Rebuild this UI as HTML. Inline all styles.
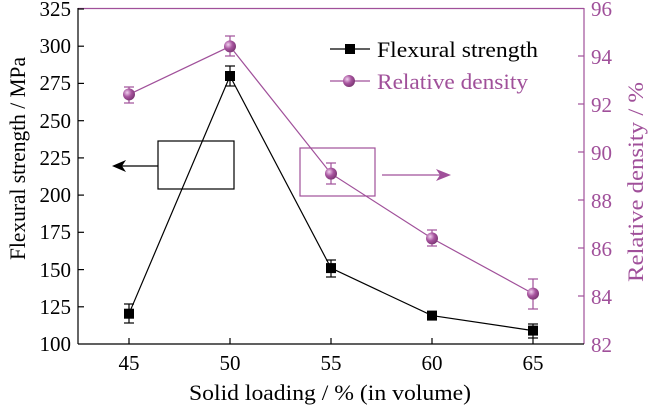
<!DOCTYPE html><html><head><style>body{margin:0;background:#fff}svg{display:block}text{font-family:"Liberation Serif",serif}</style></head><body>
<svg width="650" height="408" viewBox="0 0 650 408" xmlns="http://www.w3.org/2000/svg">
<defs><radialGradient id="g" cx="0.35" cy="0.35" r="0.7"><stop offset="0" stop-color="#f0d0ee"/><stop offset="0.5" stop-color="#a8559f"/><stop offset="1" stop-color="#7a3572"/></radialGradient></defs>
<line x1="78" y1="8.5" x2="584" y2="8.5" stroke="#a0509a" stroke-width="1.2"/>
<line x1="584" y1="8" x2="584" y2="344" stroke="#a0509a" stroke-width="1.2"/>
<line x1="78" y1="8" x2="78" y2="344" stroke="#000" stroke-width="1.2"/>
<line x1="78" y1="344" x2="584" y2="344" stroke="#000" stroke-width="1.2"/>
<g stroke="#000" stroke-width="1.2">
<line x1="78" y1="9" x2="84" y2="9"/><line x1="78" y1="46.2" x2="84" y2="46.2"/><line x1="78" y1="83.4" x2="84" y2="83.4"/><line x1="78" y1="120.7" x2="84" y2="120.7"/><line x1="78" y1="157.9" x2="84" y2="157.9"/><line x1="78" y1="195.1" x2="84" y2="195.1"/><line x1="78" y1="232.3" x2="84" y2="232.3"/><line x1="78" y1="269.6" x2="84" y2="269.6"/><line x1="78" y1="306.8" x2="84" y2="306.8"/>
<line x1="129" y1="344" x2="129" y2="338"/><line x1="230" y1="344" x2="230" y2="338"/><line x1="331" y1="344" x2="331" y2="338"/><line x1="432" y1="344" x2="432" y2="338"/><line x1="533" y1="344" x2="533" y2="338"/>
</g>
<g stroke="#a0509a" stroke-width="1.2">
<line x1="578" y1="56" x2="584" y2="56"/><line x1="578" y1="104" x2="584" y2="104"/><line x1="578" y1="152" x2="584" y2="152"/><line x1="578" y1="200" x2="584" y2="200"/><line x1="578" y1="248" x2="584" y2="248"/><line x1="578" y1="296" x2="584" y2="296"/>
</g>
<g font-size="21" text-anchor="end" fill="#000">
<text x="71" y="16">325</text><text x="71" y="53">300</text><text x="71" y="90">275</text><text x="71" y="128">250</text><text x="71" y="165">225</text><text x="71" y="202">200</text><text x="71" y="239">175</text><text x="71" y="277">150</text><text x="71" y="314">125</text><text x="71" y="351">100</text>
</g>
<g font-size="21" text-anchor="middle" fill="#000">
<text x="129" y="370">45</text><text x="230" y="370">50</text><text x="331" y="370">55</text><text x="432" y="370">60</text><text x="533" y="370">65</text>
</g>
<text x="189" y="400" font-size="22" textLength="282" lengthAdjust="spacingAndGlyphs">Solid loading / % (in volume)</text>
<g font-size="21" fill="#a0509a">
<text x="591" y="16">96</text><text x="591" y="64">94</text><text x="591" y="112">92</text><text x="591" y="160">90</text><text x="591" y="208">88</text><text x="591" y="256">86</text><text x="591" y="304">84</text><text x="591" y="352">82</text>
</g>
<text transform="translate(25,260) rotate(-90)" font-size="22" textLength="203" lengthAdjust="spacingAndGlyphs">Flexural strength / MPa</text>
<text transform="translate(643,282) rotate(-90)" font-size="22" textLength="200" lengthAdjust="spacingAndGlyphs" fill="#a0509a">Relative density / %</text>
<polyline points="129,94.4 230,46.4 331,173.6 432,238.4 533,293.6" fill="none" stroke="#a0509a" stroke-width="1.2"/>
<g stroke="#a0509a" stroke-width="1.2">
<line x1="129" y1="87" x2="129" y2="103"/><line x1="124" y1="87" x2="134" y2="87"/><line x1="124" y1="103" x2="134" y2="103"/>
<line x1="230" y1="36" x2="230" y2="56"/><line x1="225" y1="36" x2="235" y2="36"/><line x1="225" y1="56" x2="235" y2="56"/>
<line x1="331" y1="163" x2="331" y2="184"/><line x1="326" y1="163" x2="336" y2="163"/><line x1="326" y1="184" x2="336" y2="184"/>
<line x1="432" y1="230" x2="432" y2="246"/><line x1="427" y1="230" x2="437" y2="230"/><line x1="427" y1="246" x2="437" y2="246"/>
<line x1="533" y1="279" x2="533" y2="309"/><line x1="528" y1="279" x2="538" y2="279"/><line x1="528" y1="309" x2="538" y2="309"/>
</g>
<g fill="url(#g)"><circle cx="129" cy="94.4" r="6"/><circle cx="230" cy="46.4" r="6"/><circle cx="331" cy="173.6" r="6"/><circle cx="432" cy="238.4" r="6"/><circle cx="533" cy="293.6" r="6"/></g>
<polyline points="129,313.7 230,76 331,268.1 432,315.6 533,330.6" fill="none" stroke="#000" stroke-width="1.2"/>
<g stroke="#000" stroke-width="1.2">
<line x1="129" y1="304" x2="129" y2="323"/><line x1="124" y1="304" x2="134" y2="304"/><line x1="124" y1="323" x2="134" y2="323"/>
<line x1="230" y1="66" x2="230" y2="86"/><line x1="225" y1="66" x2="235" y2="66"/><line x1="225" y1="86" x2="235" y2="86"/>
<line x1="331" y1="260" x2="331" y2="277"/><line x1="326" y1="260" x2="336" y2="260"/><line x1="326" y1="277" x2="336" y2="277"/>
<line x1="432" y1="312" x2="432" y2="320"/>
<line x1="533" y1="324" x2="533" y2="338"/><line x1="528" y1="324" x2="538" y2="324"/><line x1="528" y1="338" x2="538" y2="338"/>
</g>
<g fill="#000"><rect x="124" y="308.7" width="10" height="10"/><rect x="225" y="71" width="10" height="10"/><rect x="326" y="263.1" width="10" height="10"/><rect x="427" y="310.6" width="10" height="10"/><rect x="528" y="325.6" width="10" height="10"/></g>
<rect x="158" y="141" width="76" height="48" fill="none" stroke="#000" stroke-width="1.2"/>
<line x1="158" y1="166" x2="120" y2="166" stroke="#000" stroke-width="1.2"/>
<polygon points="112,166 126,160 122,166 126,172" fill="#000"/>
<rect x="300" y="148" width="75" height="48" fill="none" stroke="#a0509a" stroke-width="1.2"/>
<line x1="382" y1="175" x2="442" y2="175" stroke="#a0509a" stroke-width="1.2"/>
<polygon points="451,175 436,169 440,175 436,181" fill="#a0509a"/>
<line x1="330" y1="49" x2="370" y2="49" stroke="#000" stroke-width="1.2"/>
<rect x="345" y="44" width="10" height="10" fill="#000"/>
<text x="377" y="57" font-size="22" textLength="161" lengthAdjust="spacingAndGlyphs">Flexural strength</text>
<line x1="330" y1="81" x2="370" y2="81" stroke="#a0509a" stroke-width="1.2"/>
<circle cx="349" cy="81" r="6" fill="url(#g)"/>
<text x="377" y="89" font-size="22" textLength="151" lengthAdjust="spacingAndGlyphs" fill="#a0509a">Relative density</text>
</svg></body></html>
